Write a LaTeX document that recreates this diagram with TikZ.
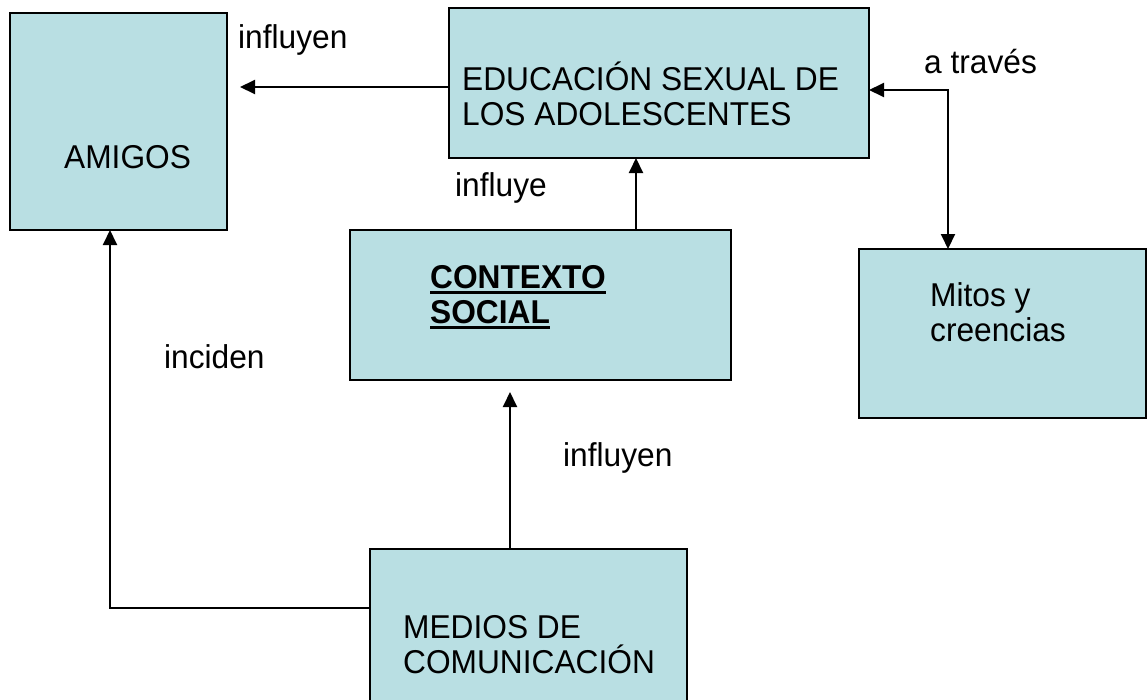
\documentclass[tikz,border=0pt]{standalone}
\usepackage{fontspec}
\setmainfont{Liberation Sans}[FakeStretch=0.96]
\usetikzlibrary{arrows.meta}
\definecolor{boxfill}{HTML}{B9DFE3}
\newcommand\myul[1]{{\setbox0\hbox{#1}\rlap{\rule[-6pt]{\wd0}{3pt}}\box0}}
\tikzset{
  box/.style={draw=black, line width=1.8pt, fill=boxfill, inner sep=0pt, outer sep=0pt},
  txt/.style={font=\fontsize{33}{35}\selectfont, align=left, inner sep=0pt, anchor=west},
  lbl/.style={font=\fontsize{33}{35}\selectfont, inner sep=0pt, anchor=west},
  conn/.style={line width=2pt, -{Triangle[length=15pt,width=14pt]}},
  conn2/.style={line width=2pt, {Triangle[length=15pt,width=14pt]}-{Triangle[length=15pt,width=14pt]}}
}
\begin{document}
\begin{tikzpicture}[x=1pt,y=-1pt]
\useasboundingbox (0,0) rectangle (1148,699);
% boxes
\node[box, minimum width=217pt, minimum height=217pt] (amigos) at (118.5,121.5) {};
\node[box, minimum width=420pt, minimum height=150pt] (edu) at (659,83) {};
\node[box, minimum width=381pt, minimum height=150pt] (ctx) at (540.5,305) {};
\node[box, minimum width=287pt, minimum height=169pt] (mitos) at (1002.5,333.5) {};
\node[box, minimum width=317pt, minimum height=153pt] (medios) at (528.5,625.5) {};
% texts
\node[txt] (tamigos) at (64,157) {AMIGOS};
\node[txt] (tedu) at (462,94) {EDUCACIÓN SEXUAL DE\\LOS ADOLESCENTES};
\node[txt, font=\fontsize{33}{35}\selectfont\bfseries] (tctx) at (430,297) {\myul{CONTEXTO}\\\myul{SOCIAL}};
\node[txt] (tmitos) at (930,312) {Mitos y\\creencias};
\node[txt] (tmedios) at (403,645) {MEDIOS DE\\COMUNICACIÓN};
% connectors
\coordinate (a1) at (240,87);
\draw[conn] (edu.west |- a1) -- (a1);
\coordinate (e1) at (636,0);
\draw[conn] (ctx.north -| e1) -- (edu.south -| e1);
\coordinate (b1) at (948,90);
\draw[conn2] (edu.east |- b1) -- (b1) -- (mitos.north -| b1);
\coordinate (c1) at (510,392);
\draw[conn] (medios.north -| c1) -- (c1);
\coordinate (d1) at (110,608);
\draw[conn] (medios.west |- d1) -- (d1) -- (amigos.south -| d1);
% labels
\node[lbl] (l1) at (238,40) {influyen};
\node[lbl] (l2) at (455,188) {influye};
\node[lbl] (l3) at (924,62) {a través};
\node[lbl] (l4) at (563,458) {influyen};
\node[lbl] (l5) at (164,357) {inciden};
\end{tikzpicture}
\end{document}
